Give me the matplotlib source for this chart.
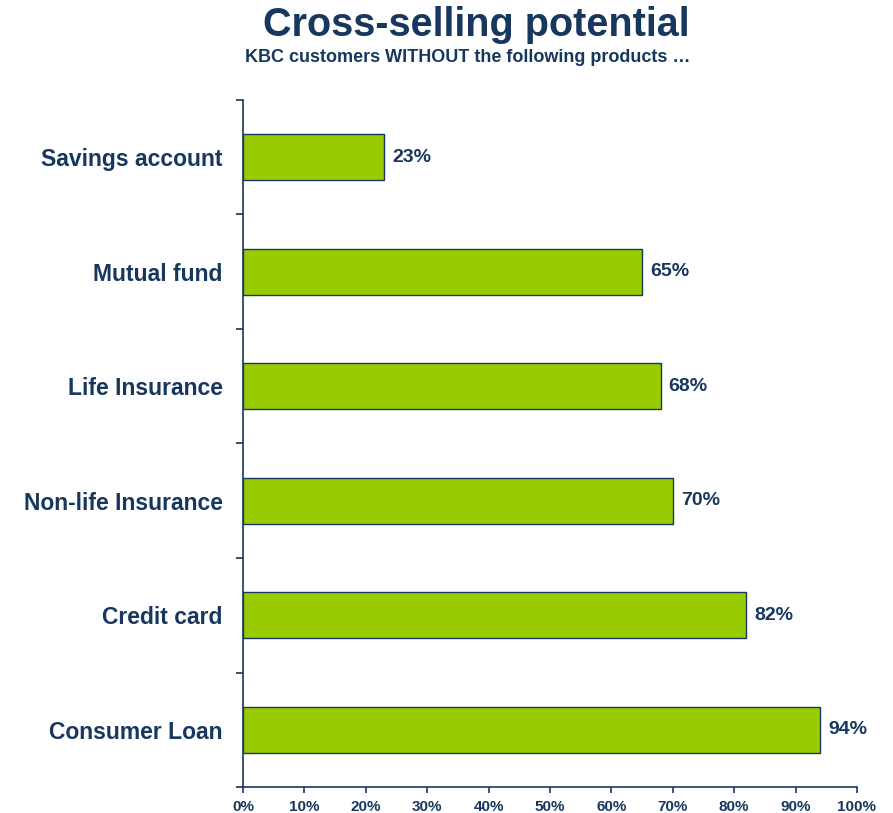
import matplotlib
matplotlib.use("Agg")
import matplotlib.pyplot as plt
from matplotlib.ticker import FixedLocator, NullFormatter

plt.rcParams['font.family'] = ['Liberation Sans', 'DejaVu Sans']

categories = ["Savings account", "Mutual fund", "Life Insurance",
              "Non-life Insurance", "Credit card", "Consumer Loan"]
values = [23, 65, 68, 70, 82, 94]
xticks = [0, 10, 20, 30, 40, 50, 60, 70, 80, 90, 100]
xtick_labels = [f"{v}%" for v in xticks]

NAVY = "#17375E"
GREEN = "#99CC00"

fig = plt.figure(figsize=(8.93, 8.13), dpi=100)
ax = fig.add_axes([243 / 893, 1 - 787 / 813, (857 - 243) / 893, (787 - 100) / 813])

ypos = list(range(len(categories)))
ax.barh(ypos, values, height=0.4, color=GREEN, edgecolor=NAVY, linewidth=1.0)
ax.set_ylim(len(categories) - 0.5, -0.5)
ax.set_xlim(0, 100)

for y, v in zip(ypos, values):
    ax.text(v + 1.3, y, f"{v}%", va="center", ha="left",
            fontsize=14, fontweight="bold", color=NAVY)

# category labels at bar centres, tick marks at category boundaries
ax.set_yticks(ypos)
ax.set_yticklabels(categories, fontsize=16.5, fontweight="bold", color=NAVY)
ax.tick_params(axis="y", which="major", length=0, pad=14.5)
ax.yaxis.set_minor_locator(FixedLocator([i - 0.5 for i in range(len(categories) + 1)]))
ax.yaxis.set_minor_formatter(NullFormatter())
ax.tick_params(axis="y", which="minor", length=5, width=1.2, color=NAVY, direction="out")

ax.set_xticks(xticks)
ax.set_xticklabels(xtick_labels, fontsize=11, fontweight="bold", color=NAVY)
ax.tick_params(axis="x", length=4, width=1.2, color=NAVY, direction="out", pad=5)

for side in ("top", "right"):
    ax.spines[side].set_visible(False)
for side in ("left", "bottom"):
    ax.spines[side].set_color(NAVY)
    ax.spines[side].set_linewidth(1.2)

fig.text(476.5 / 893, 1 - 36 / 813, "Cross-selling potential", ha="center", va="baseline",
         fontsize=28.5, fontweight="bold", color=NAVY)
fig.text(467.5 / 893, 1 - 62.5 / 813, "KBC customers WITHOUT the following products \u2026",
         ha="center", va="baseline", fontsize=13, fontweight="bold", color=NAVY)

fig.savefig("out.png", dpi=100)
